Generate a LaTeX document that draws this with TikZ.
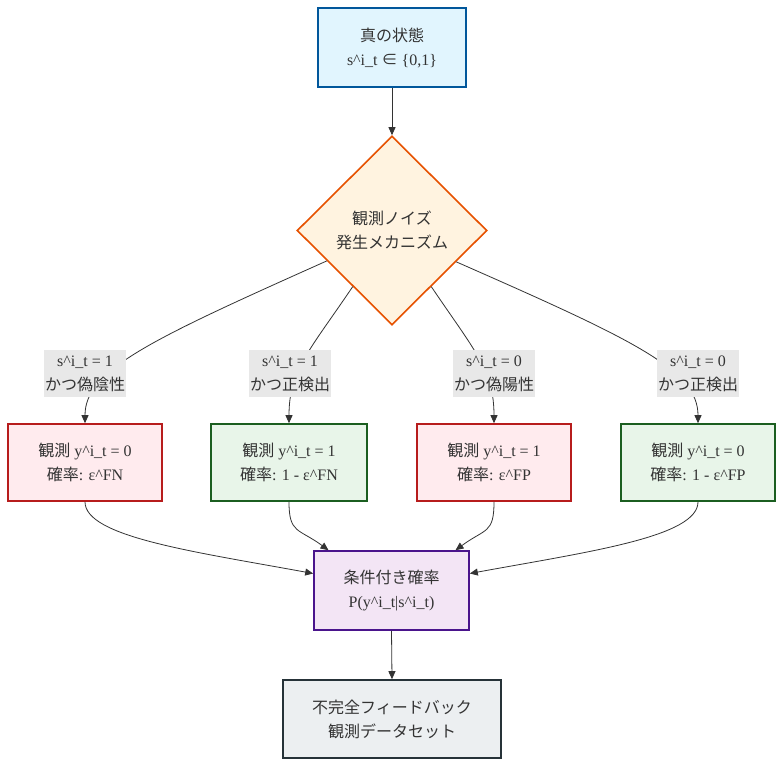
\documentclass[tikz,border=0pt]{standalone}
\usepackage{fontspec}
\setmainfont{Liberation Serif}
\newfontfamily\jp{Noto Sans CJK JP}
\usetikzlibrary{shapes.geometric,arrows.meta}
\definecolor{txt}{HTML}{333333}
\definecolor{bluef}{HTML}{E1F5FE}\definecolor{blued}{HTML}{01579B}
\definecolor{orf}{HTML}{FFF3E0}\definecolor{ord}{HTML}{E65100}
\definecolor{redf}{HTML}{FFEBEE}\definecolor{redd}{HTML}{B71C1C}
\definecolor{grf}{HTML}{E8F5E9}\definecolor{grd}{HTML}{1B5E20}
\definecolor{puf}{HTML}{F3E5F5}\definecolor{pud}{HTML}{4A148C}
\definecolor{gyf}{HTML}{ECEFF1}\definecolor{gyd}{HTML}{263238}
\definecolor{lblbg}{HTML}{E8E8E8}
\definecolor{edge}{HTML}{333333}
\begin{document}
\begin{tikzpicture}[x=1pt,y=-1pt,
  font=\fontsize{16}{24}\selectfont, text=txt,
  box/.style={draw, line width=1.6pt, align=center, inner sep=0pt},
  obsbox/.style={box, minimum width=154pt, minimum height=77pt},
  lbl/.style={fill=lblbg, align=center, inner sep=0pt, minimum width=82pt, minimum height=47pt},
  conn/.style={draw=edge, line width=0.8pt, -{Triangle[length=8pt,width=7pt]}}]
\useasboundingbox (0,0) rectangle (783,766);
% nodes
\node[box, fill=bluef, draw=blued, minimum width=148pt, minimum height=79pt] (top) at (392,47.5)
  {{\jp 真の状態}\\s\textasciicircum i\_t {\jp ∈} \{0,1\}};
\node[diamond, aspect=1, draw=ord, fill=orf, line width=1.6pt, inner sep=0pt,
  minimum width=190pt, minimum height=189pt, align=center] (d) at (392,230.5)
  {{\jp 観測ノイズ}\\{\jp 発生メカニズム}};
\node[obsbox, fill=redf, draw=redd] (b1) at (85,462.5)
  {{\jp 観測} y\textasciicircum i\_t = 0\\{\jp 確率}: ε\textasciicircum FN};
\node[obsbox, fill=grf, draw=grd, minimum width=156pt] (b2) at (289,462.5)
  {{\jp 観測} y\textasciicircum i\_t = 1\\{\jp 確率}: 1 - ε\textasciicircum FN};
\node[obsbox, fill=redf, draw=redd] (b3) at (494,462.5)
  {{\jp 観測} y\textasciicircum i\_t = 1\\{\jp 確率}: ε\textasciicircum FP};
\node[obsbox, fill=grf, draw=grd] (b4) at (698,462.5)
  {{\jp 観測} y\textasciicircum i\_t = 0\\{\jp 確率}: 1 - ε\textasciicircum FP};
\node[box, fill=puf, draw=pud, minimum width=155pt, minimum height=79pt] (p) at (391.5,590.5)
  {{\jp 条件付き確率}\\P(y\textasciicircum i\_t|s\textasciicircum i\_t)};
\node[box, fill=gyf, draw=gyd, minimum width=218pt, minimum height=78pt] (f) at (392,719)
  {{\jp 不完全フィードバック}\\{\jp 観測データセット}};
% connectors
\draw[conn] (top.south) -- (d.north);
\draw[conn] (d.205.8) .. controls (150,340) and (85,370) .. (b1.north);
\draw[conn] (d.235) .. controls (310,350) and (289,370) .. (b2.north);
\draw[conn] (d.305) .. controls (474,350) and (494,370) .. (b3.north);
\draw[conn] (d.334.2) .. controls (634,340) and (698,370) .. (b4.north);
\draw[conn] (b1.south) .. controls +(0,35) and +(-120,-22) .. ([yshift=17pt]p.west);
\draw[conn] (b2.south) .. controls +(0,32) and +(-30,-22) .. ([xshift=-63pt]p.north);
\draw[conn] (b3.south) .. controls +(0,32) and +(30,-22) .. ([xshift=64pt]p.north);
\draw[conn] (b4.south) .. controls +(0,35) and +(120,-22) .. ([yshift=17pt]p.east);
\draw[conn] (p.south) -- (f.north);
% edge labels
\node[lbl] (l1) at (85,373.5) {s\textasciicircum i\_t = 1\\{\jp かつ偽陰性}};
\node[lbl] (l2) at (290,373.5) {s\textasciicircum i\_t = 1\\{\jp かつ正検出}};
\node[lbl] (l3) at (494,373.5) {s\textasciicircum i\_t = 0\\{\jp かつ偽陽性}};
\node[lbl] (l4) at (698,373.5) {s\textasciicircum i\_t = 0\\{\jp かつ正検出}};
\end{tikzpicture}
\end{document}
